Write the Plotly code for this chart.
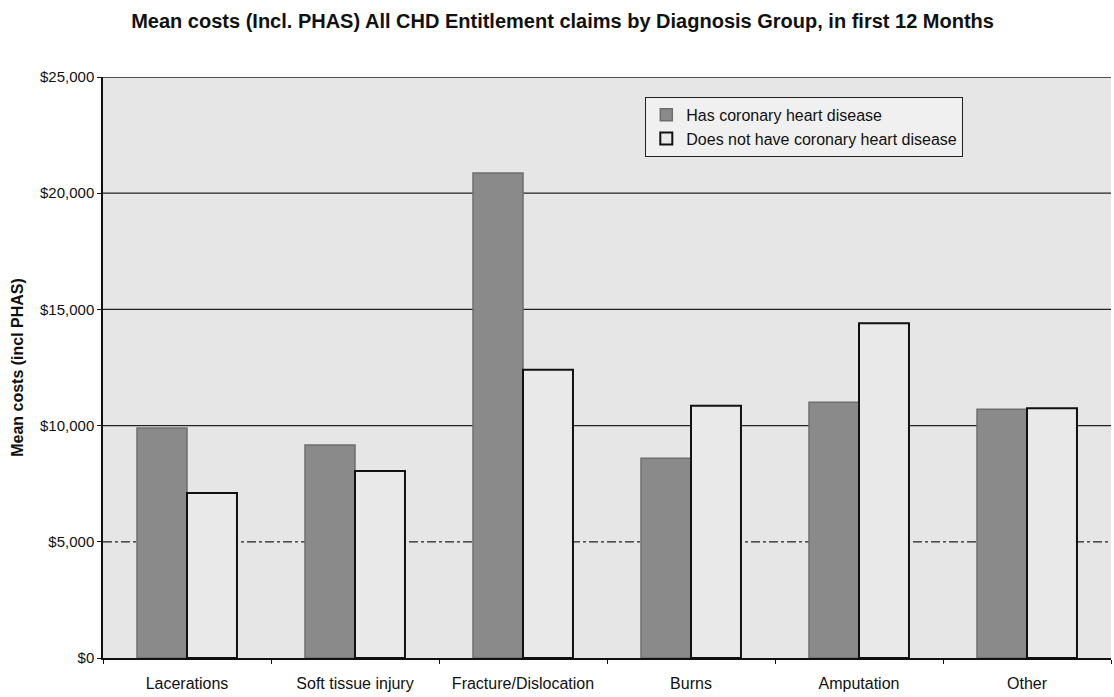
import plotly.graph_objects as go

categories = ["Lacerations", "Soft tissue injury", "Fracture/Dislocation", "Burns", "Amputation", "Other"]
has_chd = [9900, 9170, 20870, 8600, 11000, 10700]
no_chd = [7100, 8050, 12400, 10850, 14400, 10750]
y_ticks = [0, 5000, 10000, 15000, 20000, 25000]
y_tick_labels = ["$0", "$5,000", "$10,000", "$15,000", "$20,000", "$25,000"]

FONT = "Liberation Sans, Arial, sans-serif"

fig = go.Figure()
fig.add_trace(go.Bar(
    name="Has coronary heart disease",
    x=categories, y=has_chd,
    marker=dict(color="#8a8a8a", line=dict(color="#6e6e6e", width=1.5)),
))
fig.add_trace(go.Bar(
    name="Does not have coronary heart disease",
    x=categories, y=no_chd,
    marker=dict(color="#e9e9e9", line=dict(color="#111111", width=2)),
))

# horizontal gridlines; the $5,000 line is dash-dot
for v in y_ticks[1:]:
    fig.add_shape(
        type="line", xref="paper", yref="y", x0=0, x1=1, y0=v, y1=v,
        line=dict(color="#222222", width=1.3, dash="dashdot" if v == 5000 else "solid"),
        layer="below",
    )

fig.update_layout(
    width=1114, height=697,
    margin=dict(l=103, r=3, t=77, b=39),
    paper_bgcolor="white",
    plot_bgcolor="#e6e6e6",
    font=dict(family=FONT, size=15, color="#111111"),
    title=dict(
        text="<b>Mean costs (Incl. PHAS) All CHD Entitlement claims by Diagnosis Group, in first 12 Months</b>",
        x=0.505, xanchor="center", y=0.970, yanchor="middle",
        font=dict(family=FONT, size=20, color="#111111"),
    ),
    barmode="group",
    bargap=0.405,
    bargroupgap=0,
    showlegend=True,
    legend=dict(
        x=0.538, y=0.966, xanchor="left", yanchor="top",
        bgcolor="#f0f0f0", bordercolor="#222222", borderwidth=1,
        font=dict(family=FONT, size=16, color="#111111"),
        traceorder="normal", tracegroupgap=0, itemwidth=30,
    ),
    xaxis=dict(
        showgrid=False, showline=True, linecolor="#111111", linewidth=1.5,
        ticks="outside", tickson="boundaries", ticklen=4, tickcolor="#111111",
        tickfont=dict(family=FONT, size=16, color="#111111"),
        ticklabelstandoff=10,
        mirror=False,
    ),
    yaxis=dict(
        range=[0, 25000], tickvals=y_ticks, ticktext=y_tick_labels,
        showgrid=False, showline=True, linecolor="#111111", linewidth=1.5,
        ticks="outside", ticklen=4, tickcolor="#111111",
        tickfont=dict(family=FONT, size=15, color="#111111"),
        title=dict(text="<b>Mean costs (incl PHAS)</b>", standoff=12,
                   font=dict(family=FONT, size=16, color="#111111")),
        zeroline=False,
    ),
)

fig.write_html("out.html")
